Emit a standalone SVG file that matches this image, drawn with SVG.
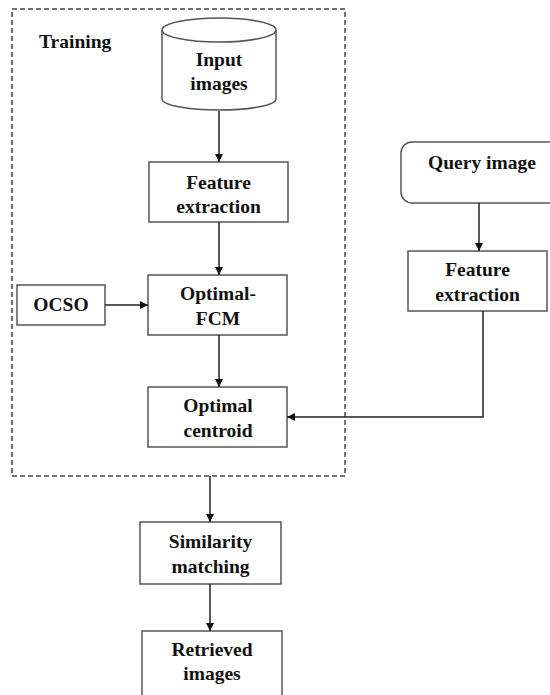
<svg xmlns="http://www.w3.org/2000/svg" width="550" height="695" viewBox="0 0 550 695">
<defs>
<style>
.box{fill:#fff;stroke:#555;stroke-width:1.5}
.lbl{font-family:"Liberation Serif","Times New Roman",serif;font-weight:bold;font-size:19.5px;fill:#111;text-anchor:middle}
.ln{fill:none;stroke:#222;stroke-width:1.5}
</style>
<marker id="ah" viewBox="0 0 10 10" refX="10" refY="5" markerWidth="8" markerHeight="8" markerUnits="userSpaceOnUse" orient="auto"><path d="M0,0 L10,5 L0,10 z" fill="#111"/></marker>
</defs>
<rect id="training" x="12" y="9" width="333" height="467" fill="none" stroke="#444" stroke-width="1.5" stroke-dasharray="5,3"/>
<text x="39" y="48" class="lbl" style="text-anchor:start">Training</text>
<g id="input">
<path class="box" d="M162,30 L162,99 A57,11 0 0 0 276,99 L276,30"/>
<ellipse class="box" cx="219" cy="30" rx="57" ry="12"/>
<text x="219" y="66" class="lbl">Input</text>
<text x="219" y="90" class="lbl">images</text>
</g>
<g id="fe1">
<rect class="box" x="149" y="162" width="139" height="60"/>
<text x="218.5" y="189" class="lbl">Feature</text>
<text x="218.5" y="213" class="lbl">extraction</text>
</g>
<g id="ocso">
<rect class="box" x="17" y="285" width="88" height="40"/>
<text x="61" y="311" class="lbl">OCSO</text>
</g>
<g id="fcm">
<rect class="box" x="148" y="275" width="139" height="60"/>
<text x="218" y="300" class="lbl">Optimal-</text>
<text x="218" y="325" class="lbl">FCM</text>
</g>
<g id="centroid">
<rect class="box" x="148" y="387" width="139" height="60"/>
<text x="218" y="412" class="lbl">Optimal</text>
<text x="218" y="437" class="lbl">centroid</text>
</g>
<g id="query">
<rect class="box" x="401" y="142" width="161" height="61" rx="11"/>
<text x="482" y="169" class="lbl">Query image</text>
</g>
<g id="fe2">
<rect class="box" x="408" y="251" width="139" height="60"/>
<text x="477.5" y="276" class="lbl">Feature</text>
<text x="477.5" y="301" class="lbl">extraction</text>
</g>
<g id="similarity">
<rect class="box" x="140" y="522" width="141" height="62"/>
<text x="210.5" y="548" class="lbl">Similarity</text>
<text x="210.5" y="573" class="lbl">matching</text>
</g>
<g id="retrieved">
<rect class="box" x="142" y="631" width="140" height="70"/>
<text x="212" y="656" class="lbl">Retrieved</text>
<text x="212" y="680" class="lbl">images</text>
</g>
<g id="connectors">
<path class="ln" d="M219,111 L219,162" marker-end="url(#ah)"/>
<path class="ln" d="M219,222 L219,275" marker-end="url(#ah)"/>
<path class="ln" d="M105,305 L148,305" marker-end="url(#ah)"/>
<path class="ln" d="M219,335 L219,387" marker-end="url(#ah)"/>
<path class="ln" d="M479,203 L479,251" marker-end="url(#ah)"/>
<path class="ln" d="M483,311 L483,417 L287,417" marker-end="url(#ah)"/>
<path class="ln" d="M210,476 L210,522" marker-end="url(#ah)"/>
<path class="ln" d="M210,584 L210,631" marker-end="url(#ah)"/>
</g>
</svg>
